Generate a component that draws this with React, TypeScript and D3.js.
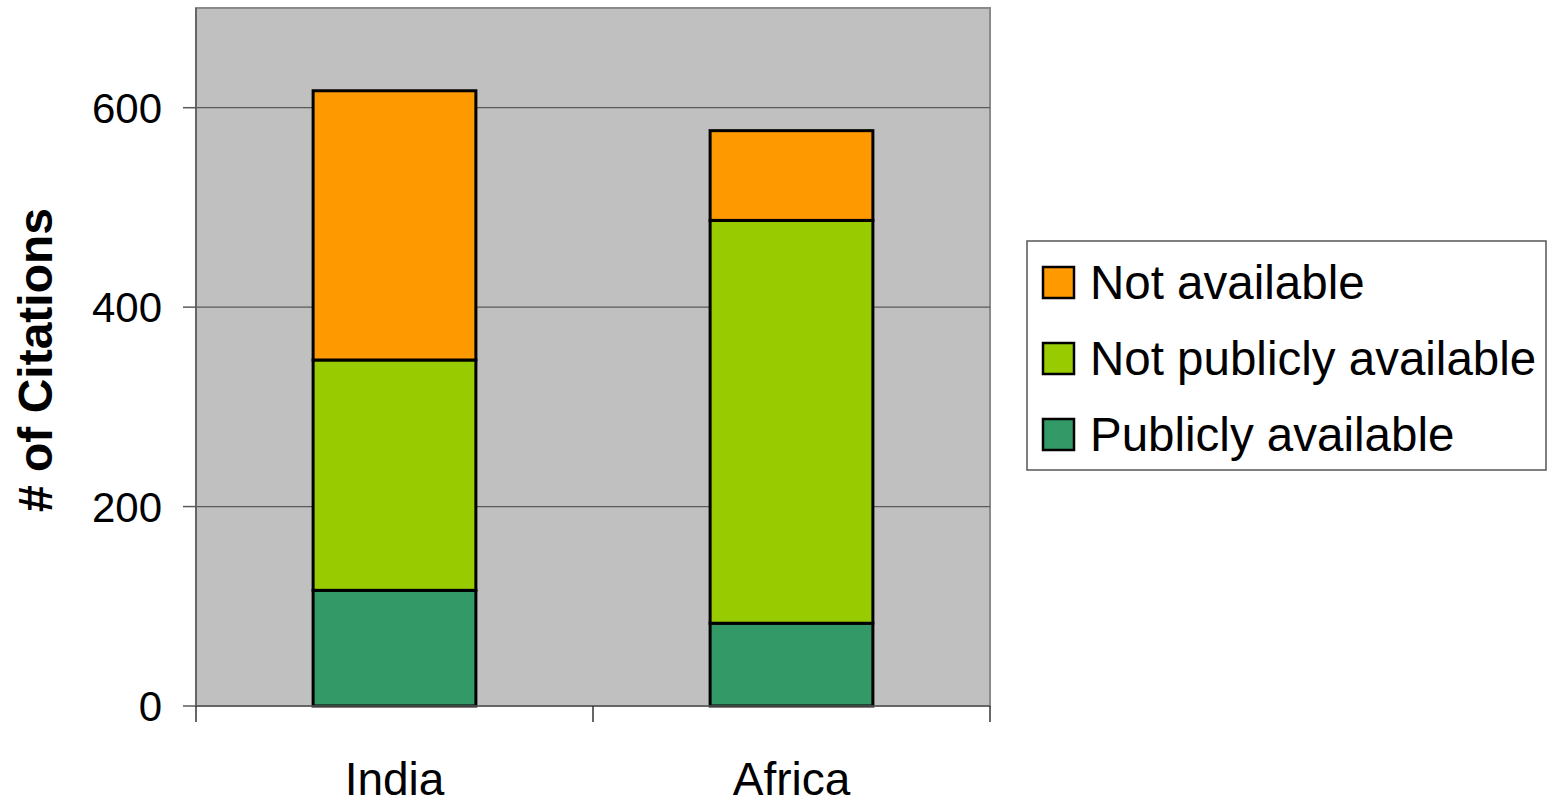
import React from "react";
import * as d3 from "d3";

const categories = ["India", "Africa"];
const seriesNames = ["Publicly available", "Not publicly available", "Not available"];
const publiclyAvailable = [116, 83];
const notPubliclyAvailable = [231, 404];
const notAvailable = [270, 90];
const yTicks = [0, 200, 400, 600];
const colors = ["#339966", "#99cc00", "#ff9900"];

const W = 1548;
const H = 805;
const left = 196;
const right = 990;
const top = 8;
const bottom = 706;
const FONT = "'Liberation Sans', Arial, sans-serif";

export default function App() {
  const y = d3.scaleLinear().domain([0, 700]).range([bottom, top]);
  const x = d3
    .scaleBand<string>()
    .domain(categories)
    .range([left, right])
    .paddingInner(0.59)
    .paddingOuter(0.295);
  const step = x.step();

  const rows = categories.map((c, i) => ({
    cat: c,
    "Publicly available": publiclyAvailable[i],
    "Not publicly available": notPubliclyAvailable[i],
    "Not available": notAvailable[i],
  }));
  const stack = d3.stack<any>().keys(seriesNames)(rows);

  const legendItems = [...seriesNames].reverse();
  const legendColors = [...colors].reverse();

  return (
    <svg
      width={W}
      height={H}
      style={{ position: "absolute", left: 0, top: 0, display: "block" }}
      fontFamily={FONT}
    >
      <rect x={0} y={0} width={W} height={H} fill="#ffffff" />
      {/* plot background */}
      <rect x={left} y={top} width={right - left} height={bottom - top} fill="#c0c0c0" stroke="#8a8a8a" strokeWidth={2} />
      {/* gridlines */}
      {yTicks.filter((t) => t > 0).map((t) => (
        <line key={t} x1={left} x2={right} y1={y(t)} y2={y(t)} stroke="#5a5a5a" strokeWidth={1.2} />
      ))}
      {/* bars */}
      {stack.map((s, si) =>
        s.map((d, i) => (
          <rect
            key={`${si}-${i}`}
            x={x(categories[i])!}
            y={y(d[1])}
            width={x.bandwidth()}
            height={y(d[0]) - y(d[1])}
            fill={colors[si]}
            stroke="#000"
            strokeWidth={3}
          />
        ))
      )}
      {/* y axis */}
      <line x1={left} x2={left} y1={top} y2={bottom} stroke="#5a5a5a" strokeWidth={1.5} />
      {yTicks.map((t) => (
        <g key={t}>
          <line x1={left - 13} x2={left} y1={y(t)} y2={y(t)} stroke="#5a5a5a" strokeWidth={1.5} />
          <text x={162} y={y(t)} dy="0.36em" textAnchor="end" fontSize={42} fill="#000">
            {t}
          </text>
        </g>
      ))}
      {/* x axis */}
      <line x1={left} x2={right} y1={bottom} y2={bottom} stroke="#5a5a5a" strokeWidth={1.5} />
      {[0, 1, 2].map((k) => (
        <line key={k} x1={left + k * step} x2={left + k * step} y1={bottom} y2={bottom + 16} stroke="#333" strokeWidth={1.5} />
      ))}
      {categories.map((c) => (
        <text key={c} x={x(c)! + x.bandwidth() / 2} y={795} textAnchor="middle" fontSize={46} fill="#000">
          {c}
        </text>
      ))}
      {/* y title */}
      <text
        transform={`translate(52, 360) rotate(-90)`}
        textAnchor="middle"
        fontSize={48}
        fontWeight="bold"
        fill="#000"
      >
        # of Citations
      </text>
      {/* legend */}
      <rect x={1027} y={241} width={519} height={229} fill="#fff" stroke="#555" strokeWidth={1.5} />
      {legendItems.map((name, i) => (
        <g key={name} transform={`translate(0, ${282 + i * 76})`}>
          <rect x={1043} y={-15} width={31} height={31} fill={legendColors[i]} stroke="#000" strokeWidth={2.5} />
          <text x={1090} y={0} dy="0.36em" fontSize={47.5} fill="#000">
            {name}
          </text>
        </g>
      ))}
    </svg>
  );
}
